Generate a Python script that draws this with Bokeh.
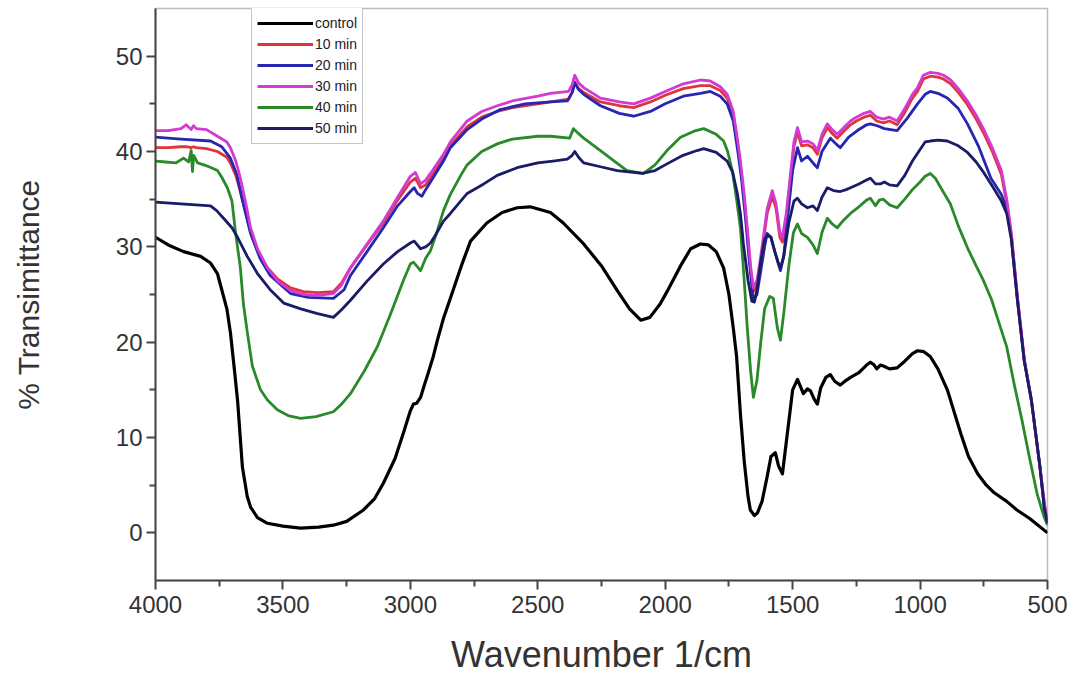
from bokeh.plotting import figure
from bokeh.models import Range1d, FixedTicker, Legend, LegendItem
from bokeh.embed import file_html
from bokeh.resources import INLINE

# ---------------- data ----------------
control_w = [4000, 3950, 3890, 3823, 3784, 3757, 3745, 3720, 3706, 3690, 3678, 3659, 3640, 3627, 3600, 3561,
             3500, 3431, 3360, 3302, 3250, 3184, 3140, 3106, 3060, 3027, 3000, 2988, 2975, 2960, 2945, 2933,
             2910, 2894, 2870, 2843, 2800, 2764, 2700, 2640, 2581, 2530, 2450, 2400, 2320, 2250, 2188, 2140,
             2096, 2060, 2020, 1993, 1940, 1900, 1862, 1830, 1800, 1771, 1750, 1733, 1720, 1705, 1690, 1675,
             1666, 1650, 1638, 1620, 1600, 1585, 1568, 1555, 1540, 1525, 1500, 1481, 1470, 1458, 1442, 1430,
             1415, 1403, 1390, 1370, 1352, 1335, 1313, 1290, 1273, 1240, 1210, 1195, 1180, 1170, 1156, 1144,
             1120, 1090, 1060, 1030, 1010, 985, 960, 930, 893, 870, 840, 810, 774, 740, 709, 660, 620, 570, 500]
control_t = [31.0, 30.2, 29.5, 29.0, 28.3, 27.2, 26.0, 23.5, 21.0, 17.0, 13.9, 6.9, 3.8, 2.7, 1.6, 1.0,
             0.7, 0.5, 0.6, 0.8, 1.2, 2.4, 3.6, 5.2, 7.8, 10.5, 12.8, 13.5, 13.6, 14.2, 15.5, 16.5,
             18.5, 20.2, 22.5, 24.6, 28.0, 30.6, 32.5, 33.6, 34.1, 34.2, 33.6, 32.5, 30.3, 28.0, 25.4, 23.5,
             22.3, 22.6, 24.0, 25.3, 28.0, 29.8, 30.3, 30.2, 29.5, 27.8, 25.0, 21.5, 18.5, 12.5, 7.5, 3.8,
             2.4, 1.8, 2.1, 3.3, 5.9, 8.0, 8.4, 7.0, 6.2, 9.5, 15.0, 16.1, 15.4, 14.6, 15.1, 14.9,
             14.0, 13.5, 15.2, 16.3, 16.6, 15.9, 15.5, 16.0, 16.3, 16.8, 17.6, 17.9, 17.6, 17.2, 17.6, 17.5,
             17.2, 17.3, 18.0, 18.8, 19.1, 19.0, 18.5, 17.2, 15.0, 13.0, 10.4, 8.0, 6.2, 5.0, 4.2, 3.3, 2.4, 1.5, 0.0]

# 10 min and 30 min share one wavenumber grid
min10_30_w = [4000, 3950, 3900, 3880, 3860, 3851, 3840, 3800, 3757, 3720, 3706, 3685, 3667, 3645, 3627, 3600,
              3561, 3520, 3470, 3420, 3364, 3302, 3270, 3235, 3170, 3106, 3050, 3000, 2980, 2960, 2940, 2921,
              2870, 2843, 2777, 2720, 2659, 2600, 2500, 2450, 2379, 2365, 2355, 2340, 2320, 2254, 2180, 2124,
              2058, 2000, 1929, 1862, 1823, 1784, 1757, 1733, 1715, 1705, 1690, 1678, 1665, 1654, 1640, 1628,
              1615, 1600, 1580, 1565, 1550, 1540, 1525, 1509, 1495, 1481, 1465, 1442, 1420, 1403, 1385, 1364,
              1345, 1325, 1300, 1273, 1250, 1220, 1195, 1170, 1144, 1120, 1090, 1060, 1030, 1010, 987, 960,
              930, 908, 880, 850, 814, 780, 748, 715, 681, 660, 642, 618, 591, 563, 530, 512, 500]
min10_t = [40.4, 40.4, 40.5, 40.5, 40.4, 40.5, 40.4, 40.3, 40.0, 39.4, 38.8, 37.5, 35.8, 33.5, 31.5, 29.6,
           27.8, 26.6, 25.7, 25.3, 25.2, 25.3, 26.2, 27.8, 30.2, 32.5, 34.9, 36.8, 37.2, 36.2, 36.5, 37.2,
           39.3, 40.6, 42.6, 43.6, 44.2, 44.6, 45.0, 45.2, 45.5, 46.2, 47.3, 46.6, 46.2, 45.2, 44.8, 44.6,
           45.2, 45.9, 46.6, 46.9, 46.9, 46.4, 45.6, 43.8, 40.6, 38.6, 35.0, 31.5, 27.5, 25.3, 26.0, 28.0,
           30.5, 33.5, 35.3, 34.0, 31.0, 30.5, 33.0, 37.0, 40.5, 42.0, 40.6, 40.7, 40.4, 39.7, 41.4, 42.5,
           41.9, 41.4, 42.1, 42.8, 43.2, 43.6, 43.8, 43.2, 43.0, 43.2, 42.8, 44.1, 45.6, 46.3, 47.6, 47.9,
           47.8, 47.6, 47.1, 46.2, 44.9, 43.4, 41.8, 39.9, 37.6, 34.6, 31.2, 24.6, 18.1, 13.8, 7.0, 3.0, 1.2]
min30_t = [42.2, 42.2, 42.4, 42.8, 42.3, 42.7, 42.4, 42.3, 41.6, 41.0, 40.4, 39.0, 37.2, 34.5, 32.0, 29.8,
           27.8, 26.4, 25.4, 25.0, 24.9, 25.1, 26.0, 27.8, 30.3, 32.7, 35.2, 37.4, 37.8, 36.6, 37.0, 37.7,
           39.7, 41.0, 43.2, 44.2, 44.8, 45.3, 45.8, 46.1, 46.3, 47.0, 48.0, 47.2, 46.7, 45.6, 45.2, 45.0,
           45.6, 46.3, 47.1, 47.5, 47.4, 46.8, 46.0, 44.2, 41.0, 39.0, 35.5, 32.0, 28.0, 25.7, 26.5, 28.5,
           31.0, 34.0, 35.9, 34.5, 31.5, 31.0, 33.5, 37.5, 41.0, 42.5, 41.0, 41.1, 40.8, 40.1, 41.8, 42.9,
           42.3, 41.8, 42.5, 43.2, 43.6, 44.0, 44.2, 43.6, 43.4, 43.6, 43.2, 44.5, 46.0, 46.7, 48.0, 48.3,
           48.2, 48.0, 47.5, 46.6, 45.3, 43.8, 42.2, 40.3, 38.0, 35.0, 31.5, 24.8, 18.2, 13.9, 7.0, 3.0, 1.2]

min20_w = [4000, 3900, 3784, 3740, 3706, 3680, 3660, 3627, 3590, 3550, 3470, 3400, 3302, 3260, 3235, 3170,
           3106, 3050, 3000, 2985, 2972, 2955, 2940, 2921, 2870, 2843, 2777, 2720, 2647, 2550, 2450, 2384,
           2365, 2355, 2340, 2320, 2254, 2180, 2124, 2058, 2000, 1929, 1862, 1823, 1784, 1757, 1733, 1715,
           1700, 1685, 1670, 1654, 1640, 1625, 1610, 1600, 1585, 1570, 1548, 1535, 1520, 1500, 1481, 1465,
           1442, 1420, 1403, 1385, 1352, 1330, 1313, 1280, 1246, 1210, 1195, 1168, 1140, 1090, 1050, 1010,
           980, 960, 930, 893, 850, 814, 770, 722, 681, 660, 642, 618, 591, 563, 530, 512, 500]
min20_t = [41.5, 41.3, 41.1, 40.5, 39.3, 37.5, 35.0, 31.4, 28.8, 27.0, 25.1, 24.7, 24.6, 25.5, 27.0, 29.5,
           32.0, 34.3, 35.8, 36.2, 35.6, 35.3, 36.0, 36.8, 39.0, 40.4, 42.3, 43.4, 44.4, 45.0, 45.2, 45.3,
           46.2, 47.2, 46.5, 46.0, 44.8, 44.0, 43.7, 44.2, 45.0, 45.8, 46.1, 46.3, 45.8, 45.0, 43.2, 40.0,
           37.0, 33.0, 28.5, 24.4, 25.0, 27.5, 30.0, 31.4, 31.0, 29.5, 27.5, 29.0, 33.0, 38.0, 40.4, 39.0,
           39.5, 38.8, 38.3, 40.0, 41.4, 40.8, 40.4, 41.5, 42.2, 42.8, 42.9, 42.7, 42.4, 42.2, 43.5, 45.0,
           46.0, 46.3, 46.1, 45.6, 44.5, 42.9, 40.5, 37.2, 35.5, 34.0, 31.0, 24.4, 18.0, 13.9, 7.0, 2.5, 1.0]

min40_w = [4000, 3960, 3920, 3890, 3870, 3860, 3855, 3850, 3835, 3810, 3790, 3757, 3740, 3718, 3700, 3686,
           3667, 3655, 3639, 3620, 3588, 3560, 3522, 3480, 3431, 3370, 3302, 3270, 3235, 3180, 3130, 3080,
           3027, 3000, 2988, 2972, 2960, 2940, 2921, 2900, 2870, 2843, 2800, 2777, 2720, 2659, 2600, 2500,
           2450, 2375, 2360, 2345, 2320, 2254, 2200, 2150, 2085, 2040, 1993, 1940, 1880, 1849, 1800, 1771,
           1755, 1737, 1720, 1705, 1690, 1678, 1665, 1654, 1640, 1625, 1610, 1590, 1576, 1560, 1548, 1535,
           1515, 1497, 1481, 1465, 1442, 1420, 1403, 1385, 1364, 1345, 1325, 1300, 1273, 1240, 1210, 1195,
           1175, 1160, 1144, 1120, 1090, 1060, 1030, 1000, 980, 960, 940, 910, 881, 850, 814, 780, 752, 720,
           690, 660, 630, 600, 570, 540, 515, 500]
min40_t = [39.0, 38.9, 38.8, 39.3, 38.9, 40.1, 37.9, 39.6, 38.8, 38.6, 38.4, 38.0, 37.3, 36.2, 34.8, 31.5,
           27.8, 24.0, 20.9, 17.5, 15.0, 13.9, 12.9, 12.3, 12.0, 12.2, 12.7, 13.5, 14.6, 17.0, 19.5, 22.8,
           26.5, 28.2, 28.4, 27.9, 27.5, 28.8, 29.6, 31.2, 33.8, 35.5, 37.6, 38.6, 40.0, 40.8, 41.3, 41.6,
           41.6, 41.4, 42.4, 42.0, 41.4, 40.1, 39.0, 38.0, 37.7, 38.6, 40.1, 41.5, 42.2, 42.4, 41.8, 41.1,
           40.0, 38.0, 35.0, 32.0, 26.5, 21.5, 17.0, 14.2, 16.0, 20.0, 23.5, 24.8, 24.6, 21.5, 20.2, 23.0,
           28.0, 31.5, 32.4, 31.4, 31.0, 30.2, 29.3, 31.5, 33.0, 32.4, 32.0, 32.8, 33.5, 34.2, 34.9, 35.1,
           34.3, 34.9, 35.0, 34.4, 34.1, 35.0, 36.0, 36.8, 37.4, 37.7, 37.2, 35.8, 34.5, 32.2, 29.9, 28.0, 26.5, 24.5,
           22.0, 19.5, 15.5, 11.8, 7.8, 4.0, 1.8, 0.8]

min50_w = [4000, 3900, 3784, 3760, 3733, 3700, 3678, 3640, 3600, 3550, 3497, 3430, 3364, 3302, 3270, 3235,
           3170, 3106, 3050, 3000, 2985, 2960, 2940, 2921, 2900, 2870, 2843, 2777, 2712, 2659, 2581, 2500,
           2440, 2384, 2365, 2355, 2340, 2320, 2254, 2188, 2090, 2040, 1993, 1930, 1875, 1849, 1800, 1757,
           1735, 1717, 1705, 1693, 1675, 1660, 1650, 1640, 1625, 1610, 1600, 1585, 1570, 1555, 1548, 1535,
           1515, 1495, 1481, 1465, 1442, 1420, 1403, 1385, 1364, 1340, 1313, 1290, 1273, 1240, 1210, 1195,
           1175, 1156, 1140, 1120, 1090, 1060, 1030, 1000, 980, 960, 930, 893, 850, 814, 780, 748, 715, 681,
           660, 642, 618, 591, 563, 530, 512, 500]
min50_t = [34.7, 34.5, 34.3, 33.8, 33.0, 32.0, 31.0, 29.0, 27.2, 25.5, 24.1, 23.5, 23.0, 22.6, 23.4, 24.4,
           26.4, 28.2, 29.5, 30.4, 30.6, 29.8, 30.0, 30.4, 31.3, 32.7, 33.5, 35.6, 36.6, 37.5, 38.3, 38.8,
           39.0, 39.2, 39.6, 40.0, 39.4, 38.8, 38.4, 38.0, 37.7, 38.0, 38.7, 39.6, 40.1, 40.3, 39.9, 39.0,
           37.8, 35.6, 33.5, 30.3, 26.5, 24.3, 24.2, 25.5, 28.5, 30.8, 31.2, 31.0, 29.5, 28.2, 27.8, 29.0,
           32.5, 34.8, 35.1, 34.5, 34.1, 34.3, 33.8, 35.2, 36.2, 35.9, 35.8, 36.0, 36.2, 36.6, 37.0, 37.2,
           36.6, 36.6, 36.8, 36.5, 36.4, 37.5, 39.0, 40.2, 41.0, 41.1, 41.2, 41.1, 40.6, 39.9, 38.9, 37.7, 36.3, 34.8,
           33.5, 30.8, 24.4, 18.0, 13.9, 7.0, 2.5, 1.0]

series_labels = ["control", "10 min", "20 min", "30 min", "40 min", "50 min"]
series_colors = ["#000000", "#e0343c", "#2626b0", "#d23ad2", "#2a8a2a", "#1b1b66"]

x_ticks = [4000, 3500, 3000, 2500, 2000, 1500, 1000, 500]
x_minor = [3750, 3250, 2750, 2250, 1750, 1250, 750]
y_ticks = [0, 10, 20, 30, 40, 50]
y_minor = [5, 15, 25, 35, 45]
x_title = "Wavenumber 1/cm"
y_title = "% Transimittance"

series = [(control_w, control_t), (min10_30_w, min10_t), (min20_w, min20_t),
          (min10_30_w, min30_t), (min40_w, min40_t), (min50_w, min50_t)]
for w, t in series:
    assert len(w) == len(t), (len(w), len(t))

# ---------------- figure ----------------
FONT = "Liberation Sans"
p = figure(width=1084, height=677, output_backend="svg", toolbar_location=None,
           x_range=Range1d(4000, 500), y_range=Range1d(-5, 55),
           min_border_left=155, min_border_right=37, min_border_top=8, min_border_bottom=95)
p.background_fill_color = "white"
p.border_fill_color = "white"
p.outline_line_color = "#bdbdbd"
p.outline_line_width = 1.5
p.xgrid.visible = False
p.ygrid.visible = False

items = []
for (w, t), lab, col in zip(series, series_labels, series_colors):
    lw = 3.2 if lab == "control" else 2.8
    r = p.line(w, t, line_color=col, line_width=lw, line_join="round")
    items.append(LegendItem(label=lab, renderers=[r]))

legend = Legend(items=items, location=(96, 436), glyph_width=56, glyph_height=20,
                label_height=20, label_standoff=2, spacing=1, padding=5, margin=0,
                label_text_font=FONT, label_text_font_size="14px", label_text_color="#222222",
                border_line_color="#8a8a8a", border_line_width=1, background_fill_color="white",
                background_fill_alpha=1.0)
p.add_layout(legend)

for ax in (p.xaxis[0], p.yaxis[0]):
    ax.axis_line_color = "#444444"
    ax.axis_line_width = 2
    ax.major_tick_line_color = "#444444"
    ax.minor_tick_line_color = "#444444"
    ax.major_tick_line_width = 2
    ax.minor_tick_line_width = 2
    ax.major_tick_in = 0
    ax.minor_tick_in = 0
    ax.major_tick_out = 9
    ax.minor_tick_out = 6
    ax.major_label_text_font = FONT
    ax.major_label_text_font_size = "24px"
    ax.major_label_text_color = "#333333"
    ax.axis_label_text_font = FONT
    ax.axis_label_text_font_style = "normal"
    ax.axis_label_text_color = "#333333"

p.xaxis[0].ticker = FixedTicker(ticks=x_ticks, minor_ticks=x_minor)
p.yaxis[0].ticker = FixedTicker(ticks=y_ticks, minor_ticks=y_minor)
p.xaxis[0].axis_label = x_title
p.xaxis[0].axis_label_text_font_size = "36px"
p.xaxis[0].axis_label_standoff = 18
p.xaxis[0].major_label_standoff = 6
p.yaxis[0].axis_label = y_title
p.yaxis[0].axis_label_text_font_size = "30px"
p.yaxis[0].axis_label_standoff = 68
p.yaxis[0].major_label_standoff = 4

open("out.html", "w").write(file_html(p, INLINE))
